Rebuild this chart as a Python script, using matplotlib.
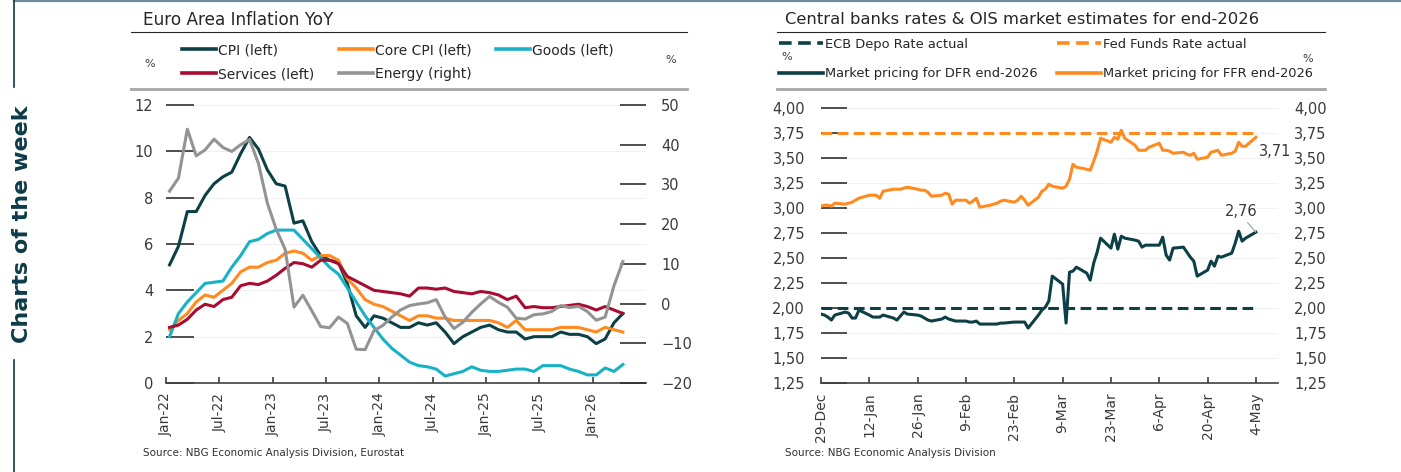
import numpy as np
import pandas as pd
import matplotlib
matplotlib.use('Agg')
from matplotlib import pyplot as plt
from matplotlib.lines import Line2D

plt.rcParams['font.family'] = 'DejaVu Sans'

W, H = 1401, 472

# ---- left chart: Euro area inflation, monthly Jan-22 .. Apr-26
cpi = [5.1, 5.9, 7.4, 7.4, 8.1, 8.6, 8.9, 9.1, 9.9, 10.6, 10.1, 9.2,
       8.6, 8.5, 6.9, 7.0, 6.1, 5.5, 5.3, 5.2, 4.3, 2.9, 2.4, 2.9,
       2.8, 2.6, 2.4, 2.4, 2.6, 2.5, 2.6, 2.2, 1.7, 2.0, 2.2, 2.4,
       2.5, 2.3, 2.2, 2.2, 1.9, 2.0, 2.0, 2.0, 2.2, 2.1, 2.1, 2.0,
       1.7, 1.9, 2.6, 3.0]
core = [2.3, 2.7, 3.0, 3.5, 3.8, 3.7, 4.0, 4.3, 4.8, 5.0, 5.0, 5.2,
        5.3, 5.6, 5.7, 5.6, 5.3, 5.5, 5.5, 5.3, 4.5, 4.1, 3.6, 3.4,
        3.3, 3.1, 2.9, 2.7, 2.9, 2.9, 2.8, 2.8, 2.7, 2.7, 2.7, 2.7,
        2.7, 2.6, 2.4, 2.7, 2.3, 2.3, 2.3, 2.3, 2.4, 2.4, 2.4, 2.3,
        2.2, 2.4, 2.3, 2.2]
goods = [2.0, 3.0, 3.5, 3.9, 4.3, 4.35, 4.4, 5.0, 5.5, 6.1, 6.2, 6.45,
         6.6, 6.6, 6.6, 6.2, 5.8, 5.4, 5.0, 4.7, 4.1, 3.5, 2.9, 2.4,
         1.9, 1.5, 1.2, 0.9, 0.75, 0.7, 0.6, 0.3, 0.4, 0.5, 0.7, 0.55,
         0.5, 0.5, 0.55, 0.6, 0.6, 0.5, 0.75, 0.75, 0.75, 0.6, 0.5, 0.35,
         0.35, 0.65, 0.5, 0.8]
services = [2.4, 2.5, 2.75, 3.15, 3.4, 3.3, 3.6, 3.7, 4.2, 4.3, 4.25, 4.4,
            4.65, 4.95, 5.2, 5.15, 5.0, 5.3, 5.3, 5.15, 4.6, 4.4, 4.2, 4.0,
            3.95, 3.9, 3.85, 3.75, 4.1, 4.1, 4.05, 4.1, 3.95, 3.9, 3.85, 3.95,
            3.9, 3.8, 3.6, 3.75, 3.25, 3.3, 3.25, 3.25, 3.3, 3.35, 3.4, 3.3,
            3.15, 3.3, 3.15, 3.0]
energy = [28.3, 31.6, 43.9, 37.2, 38.7, 41.4, 39.3, 38.3, 40.0, 41.3, 35.3, 25.3,
          18.7, 13.7, -0.9, 2.1, -1.8, -5.8, -6.1, -3.4, -5.0, -11.5, -11.6, -6.8,
          -5.5, -3.4, -1.6, -0.5, -0.1, 0.2, 1.0, -3.4, -6.3, -4.7, -2.2, -0.1,
          1.8, 0.3, -0.9, -3.7, -3.9, -2.8, -2.6, -2.0, -0.5, -1.0, -0.7, -2.0,
          -4.2, -3.4, 4.5, 10.6]
month_labels = ['Jan-22', 'Jul-22', 'Jan-23', 'Jul-23', 'Jan-24',
                'Jul-24', 'Jan-25', 'Jul-25', 'Jan-26']

# ---- right chart: policy rates and OIS pricing, business days
ecb_actual = 2.00
fed_actual = 3.75
dfr_2026 = [1.94, 1.93, 1.91, 1.88, 1.93,
            1.96, 1.95, 1.90, 1.90, 1.98,
            1.93, 1.91, 1.91, 1.91, 1.93,
            1.90, 1.88, 1.92, 1.96, 1.94,
            1.93, 1.92, 1.90, 1.88, 1.87,
            1.89, 1.91, 1.89, 1.88, 1.87,
            1.87, 1.86, 1.86, 1.87, 1.84,
            1.84, 1.84, 1.84, 1.85, 1.85,
            1.86, 1.86, 1.86, 1.86, 1.80,
            1.93, 1.98, 2.01, 2.07, 2.32,
            2.24, 1.85, 2.36, 2.37, 2.41,
            2.35, 2.28, 2.45, 2.56, 2.70,
            2.60, 2.74, 2.59, 2.72, 2.70,
            2.68, 2.67, 2.61, 2.63, 2.63,
            2.63, 2.71, 2.53, 2.48, 2.60,
            2.61, 2.56, 2.51, 2.47, 2.32,
            2.38, 2.47, 2.42, 2.52, 2.51,
            2.55, 2.65, 2.77, 2.67, 2.70,
            2.76]
ffr_2026 = [3.02, 3.03, 3.03, 3.02, 3.05,
            3.04, 3.05, 3.06, 3.08, 3.10,
            3.13, 3.13, 3.13, 3.10, 3.17,
            3.19, 3.19, 3.19, 3.20, 3.21,
            3.19, 3.18, 3.18, 3.16, 3.12,
            3.13, 3.15, 3.14, 3.04, 3.08,
            3.08, 3.05, 3.07, 3.10, 3.01,
            3.03, 3.04, 3.05, 3.07, 3.08,
            3.06, 3.08, 3.12, 3.08, 3.03,
            3.11, 3.17, 3.19, 3.24, 3.22,
            3.20, 3.22, 3.29, 3.44, 3.41,
            3.39, 3.38, 3.47, 3.57, 3.70,
            3.66, 3.71, 3.69, 3.78, 3.70,
            3.63, 3.58, 3.58, 3.58, 3.61,
            3.65, 3.58, 3.58, 3.57, 3.55,
            3.56, 3.54, 3.53, 3.55, 3.49,
            3.51, 3.56, 3.57, 3.58, 3.53,
            3.55, 3.57, 3.66, 3.62, 3.62,
            3.71]

TEAL = '#0d3f47'
ORANGE = '#ff8a1f'
CYAN = '#17b2c6'
RED = '#a80c32'
GREY = '#939393'
TXT = '#3a3a3a'


def fx(px):
    return px / W


def fy(py):
    return 1 - py / H


def comma(v):
    return f'{v:.2f}'.replace('.', ',')


fig = plt.figure(figsize=(W / 100, H / 100), dpi=100)

# ================= left chart
ax = fig.add_axes([fx(166), fy(383), fx(646) - fx(166), fy(105) - fy(383)])
ax2 = ax.twinx()
xm = np.arange(len(cpi)) + 0.4
l_cpi, = ax.plot(xm, cpi, color=TEAL, lw=2.2)
l_core, = ax.plot(xm, core, color=ORANGE, lw=2.2)
l_goods, = ax.plot(xm, goods, color=CYAN, lw=2.2)
l_serv, = ax.plot(xm, services, color=RED, lw=2.2)
l_en, = ax2.plot(xm, energy, color=GREY, lw=2.2)

ax.set_xlim(0, 54)
ax.set_ylim(0, 12)
ax2.set_ylim(-20, 50)
ax.set_yticks(np.arange(0, 13, 2))
ax2.set_yticks(np.arange(-20, 51, 10))
ax.set_xticks(np.arange(0, 49, 6))
ax.set_xticklabels(month_labels)
ax.grid(axis='y', color='#f0f0f0', lw=0.7)
ax.set_axisbelow(True)
for a in (ax, ax2):
    for s in ('top', 'left', 'right'):
        a.spines[s].set_visible(False)
ax2.spines['bottom'].set_visible(False)
ax.spines['bottom'].set_color('#404040')
ax.spines['bottom'].set_linewidth(1.2)
ax.tick_params(axis='y', direction='in', length=20, width=1.2, color='#303030',
               pad=9, labelsize=10.5, labelcolor=TXT)
ax2.tick_params(axis='y', direction='in', length=19, width=1.2, color='#303030',
                pad=11, labelsize=10.5, labelcolor=TXT)
ax.tick_params(axis='x', direction='in', length=4, width=1.2, color='#404040',
               pad=7, labelsize=10, labelcolor=TXT, labelrotation=90)

# ================= right chart
start = pd.Timestamp('2025-12-29')
bdays = pd.bdate_range(start, '2026-05-04')
xd = np.asarray((bdays - start).days, dtype=float)
tick_dates = pd.date_range(start, periods=10, freq='14D')

bx = fig.add_axes([fx(821), fy(383), fx(1278) - fx(821), fy(108.3) - fy(383)])
dash = (0, (3.5, 1.8))
l_ecb, = bx.plot([xd[0], xd[-1]], [ecb_actual, ecb_actual], color=TEAL, lw=2.2, ls=dash)
l_fed, = bx.plot([xd[0], xd[-1]], [fed_actual, fed_actual], color=ORANGE, lw=2.2, ls=dash)
l_dfr, = bx.plot(xd, dfr_2026, color=TEAL, lw=2.2)
l_ffr, = bx.plot(xd, ffr_2026, color=ORANGE, lw=2.2)

bx.set_xlim(0, 132.4)
bx.set_ylim(1.25, 4.0)
yt = np.arange(1.25, 4.01, 0.25)
bx.set_yticks(yt)
bx.set_yticklabels([comma(v) for v in yt])
bx.set_xticks((tick_dates - start).days)
bx.set_xticklabels([f"{t.day}-{t.strftime('%b')}" for t in tick_dates])
bx.grid(axis='y', color='#f0f0f0', lw=0.7)
bx.set_axisbelow(True)
for s in ('top', 'left', 'right'):
    bx.spines[s].set_visible(False)
bx.spines['bottom'].set_color('#404040')
bx.spines['bottom'].set_linewidth(1.2)
bx.tick_params(axis='y', left=True, right=False, labelleft=True, labelright=True,
               direction='in', length=19, width=1.2, color='#303030', pad=11.5,
               labelsize=10.5, labelcolor=TXT)
bx.tick_params(axis='x', direction='in', length=4, width=1.2, color='#404040',
               pad=7, labelsize=10, labelcolor=TXT, labelrotation=90)

bx.annotate(comma(ffr_2026[-1]), xy=(xd[-1], ffr_2026[-1]), xytext=(3, -14),
            textcoords='offset pixels', ha='left', va='center', fontsize=10.5, color=TXT)
bx.annotate(comma(dfr_2026[-1]), xy=(xd[-1], dfr_2026[-1]), xytext=(-15, 21),
            textcoords='offset pixels', ha='center', va='center', fontsize=10.5, color=TXT,
            arrowprops=dict(arrowstyle='-', color='#a8a8a8', lw=0.9,
                            shrinkA=1, shrinkB=0, relpos=(0.6, 0)))

# ================= legends
leg_kw = dict(loc='upper left', frameon=False, fontsize=10, borderpad=0,
              borderaxespad=0, handletextpad=0.15, handlelength=2.45)
names = {l_cpi: 'CPI (left)', l_serv: 'Services (left)', l_core: 'Core CPI (left)',
         l_en: 'Energy (right)', l_goods: 'Goods (left)'}
for hs, px in (([l_cpi, l_serv], 182), ([l_core, l_en], 339), ([l_goods], 496)):
    lg = fig.legend(hs, [names[h] for h in hs], bbox_to_anchor=(fx(px), fy(43)),
                    labelspacing=0.72, **leg_kw)
    for t in lg.get_texts():
        t.set_color('#262626')
    for ln in lg.get_lines():
        ln.set_linewidth(2.6)

leg_kw['handlelength'] = 3.35
leg_kw['fontsize'] = 9.4
for hs, labs, px in (([l_ecb, l_dfr], ['ECB Depo Rate actual', 'Market pricing for DFR end-2026'], 779),
                     ([l_fed, l_ffr], ['Fed Funds Rate actual', 'Market pricing for FFR end-2026'], 1057)):
    lg = fig.legend(hs, labs, bbox_to_anchor=(fx(px), fy(38)), labelspacing=1.25, **leg_kw)
    for t in lg.get_texts():
        t.set_color('#262626')
    for ln in lg.get_lines():
        ln.set_linewidth(2.6)

# ================= titles, rules, notes
fig.text(fx(143), fy(20), 'Euro Area Inflation YoY', fontsize=12.2, color='#262626', va='center')
fig.text(fx(785), fy(20), 'Central banks rates & OIS market estimates for end-2026',
         fontsize=11.8, color='#262626', va='center')
for x0, x1 in ((131, 687), (777, 1325)):
    fig.add_artist(Line2D([fx(x0), fx(x1)], [fy(32), fy(32)], color='#262626', lw=0.8))
    fig.add_artist(Line2D([fx(x0), fx(x1)], [fy(89), fy(89)], color='#a6a6a6', lw=2.0))
for px, py in ((150, 64), (671, 60), (787, 57), (1308, 59)):
    fig.text(fx(px), fy(py), '%', fontsize=8, color=TXT, ha='center', va='center')
fig.text(fx(143), fy(453), 'Source: NBG Economic Analysis Division, Eurostat',
         fontsize=7.5, color='#303030', va='center')
fig.text(fx(785), fy(453), 'Source: NBG Economic Analysis Division',
         fontsize=7.5, color='#303030', va='center')

# page frame and side label
fig.add_artist(Line2D([fx(14), 1], [fy(1), fy(1)], color='#6d8d97', lw=1.6))
fig.add_artist(Line2D([fx(14), fx(14)], [1, fy(87)], color='#0d3c48', lw=1.2))
fig.add_artist(Line2D([fx(14), fx(14)], [fy(360), 0], color='#0d3c48', lw=1.2))
fig.text(fx(22), fy(224), 'Charts of the week', rotation=90, fontsize=16,
         fontweight='bold', color='#0d3c48', ha='center', va='center')

fig.savefig('out.png', dpi=100)
